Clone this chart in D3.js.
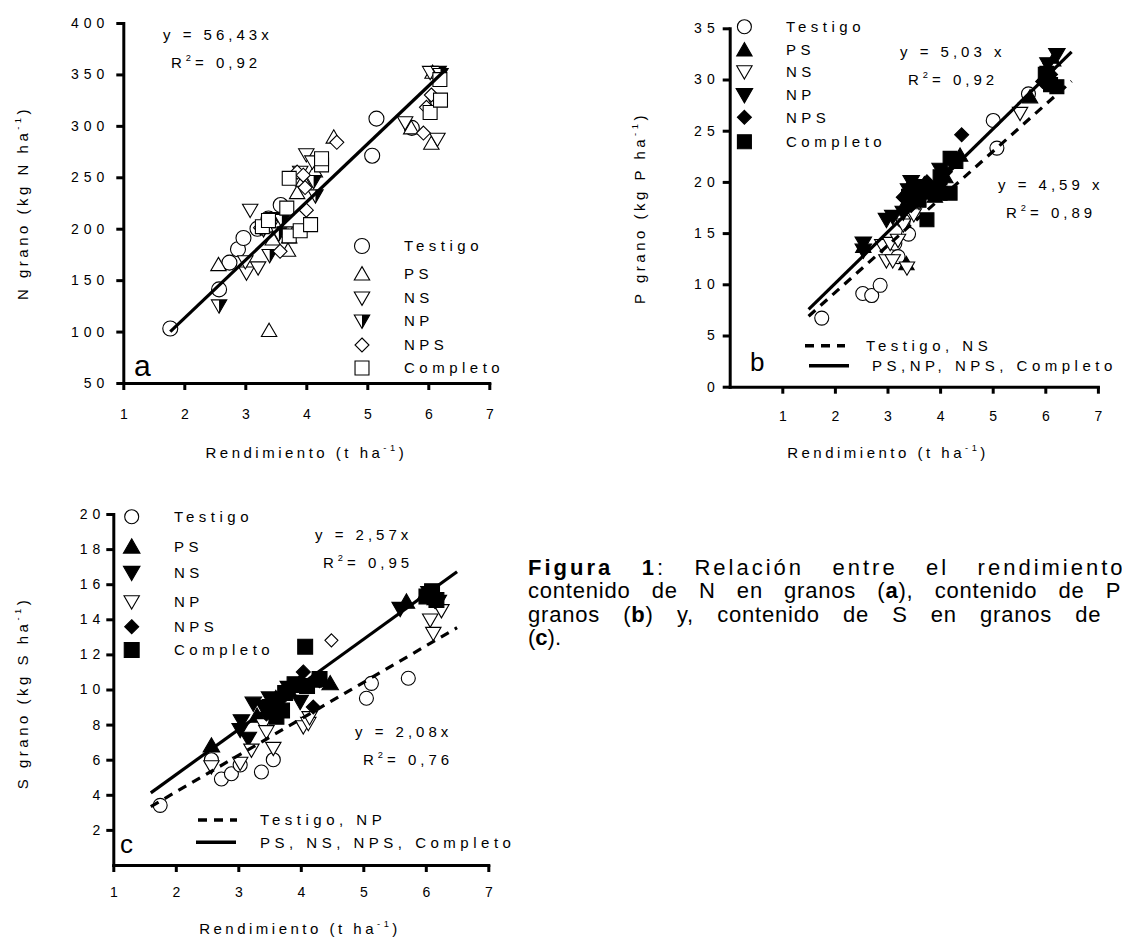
<!DOCTYPE html>
<html>
<head>
<meta charset="utf-8">
<script src="https://cdn.jsdelivr.net/npm/d3@7"></script>
<style>
  body { margin: 0; background: #fff; width: 1122px; height: 939px; overflow: hidden; position: relative; }
  #chart { position: absolute; left: 0; top: 0; }
  #caption { position: absolute; left: 528px; top: 556px; width: 640px; color: #000;
             font-family: "Liberation Sans", Arial, sans-serif; font-size: 22px; line-height: 23.3px; }
  #caption .j { text-align: justify; text-align-last: justify; letter-spacing: 0.8px; }
  #caption .l1 { letter-spacing: 3px; }
</style>
</head>
<body>
<div id="chart"></div>
<div id="caption">
  <div class="j l1"><b>Figura 1</b>: Relación entre el rendimiento y</div>
  <div class="j">contenido de N en granos (<b>a</b>), contenido de P en</div>
  <div class="j">granos (<b>b</b>) y, contenido de S en granos de soja</div>
  <div>(<b>c</b>).</div>
</div>
<script>
// ---------- data (rendimiento t/ha, contenido kg/ha) ----------
const treatments = ['Testigo', 'PS', 'NS', 'NP', 'NPS', 'Completo'];
const xTicks = [1, 2, 3, 4, 5, 6, 7];

// panel a : N grano
const aTestigo  = [[1.77,103],[2.57,141],[2.74,167],[2.88,180],[2.97,191],[3.20,200],[3.38,210],[3.58,223],[5.08,271],[5.15,307],[5.73,298]];
const aPS       = [[2.56,165],[3.39,101],[3.45,190],[3.70,179],[3.72,192],[3.85,235],[3.95,247],[4.14,256],[4.45,289],[5.72,298],[6.05,283],[6.07,352]];
const aNS       = [[3.08,218],[3.02,157],[3.00,168],[3.21,162],[3.42,203],[3.65,196],[4.00,272],[4.10,265],[5.62,303],[6.03,352],[6.15,287],[3.90,255]];
const aNP       = [[2.57,125],[3.30,199],[3.40,174],[3.46,210],[3.60,208],[3.55,195],[4.12,246],[4.15,232],[6.10,323],[6.17,352],[6.20,350]];
const aNPS      = [[3.25,201],[3.57,178],[3.70,193],[3.85,255],[3.95,252],[3.98,240],[4.00,218],[4.50,284],[5.92,293],[5.97,318],[6.05,330]];
const aCompleto = [[3.28,202],[3.38,208],[3.68,220],[3.72,249],[3.72,193],[3.90,198],[4.07,204],[4.25,262],[4.25,268],[6.03,313],[6.19,345],[6.20,325]];
const aYTicks = [50, 100, 150, 200, 250, 300, 350, 400];
const aSlopes = [56.43];
const aR2 = ['0,92'];

// panel b : P grano
const bTestigo  = [[1.75,6.7],[2.53,9.1],[2.70,8.9],[2.86,9.9],[3.14,14.0],[3.20,12.7],[3.40,14.9],[3.30,16.2],[5.01,26.0],[5.08,23.3],[5.68,28.6]];
const bPS       = [[2.54,13.7],[3.36,12.0],[3.30,17.5],[3.40,19.5],[3.55,18.5],[3.70,19.8],[3.90,18.6],[4.10,20.5],[4.38,22.6],[5.71,28.3],[6.00,30.5],[6.15,31.9]];
const bNS       = [[2.90,13.8],[2.98,12.3],[3.05,14.0],[3.10,12.3],[3.20,14.3],[3.37,11.6],[3.30,15.8],[3.50,16.8],[3.60,18.0],[5.52,26.7],[6.10,31.0]];
const bNP       = [[2.54,13.3],[2.54,14.0],[2.98,16.3],[3.10,16.6],[3.30,17.0],[3.40,19.2],[3.45,20.0],[3.60,19.6],[3.80,18.9],[4.00,21.2],[6.05,31.5],[6.22,32.4]];
const bNPS      = [[3.30,18.5],[3.45,17.7],[3.50,19.8],[3.65,19.0],[3.75,20.0],[3.90,19.5],[4.00,19.8],[4.10,21.0],[4.41,24.6],[5.95,29.8],[6.10,30.5]];
const bCompleto = [[3.40,18.6],[3.60,18.2],[3.75,16.3],[3.85,19.0],[4.00,20.5],[4.00,18.9],[4.19,18.9],[4.19,22.3],[4.30,22.0],[6.00,30.5],[6.03,30.6],[6.10,29.5],[6.22,29.3]];
const bYTicks = [0, 5, 10, 15, 20, 25, 30, 35];
const bSlopes = [4.59, 5.03];
const bR2 = ['0,89', '0,92'];

// panel c : S grano
const cTestigo  = [[1.75,3.4],[2.57,6.0],[2.73,4.9],[2.89,5.2],[3.03,5.7],[3.37,5.3],[3.56,6.0],[5.05,9.5],[5.13,10.35],[5.72,10.64]];
const cPS       = [[2.57,6.8],[3.30,8.5],[3.60,9.5],[3.80,10.0],[3.90,10.2],[4.00,10.5],[4.20,10.5],[4.47,10.35],[5.69,15.0],[6.00,15.5],[6.15,15.2]];
const cNS       = [[3.03,7.7],[3.05,8.2],[3.16,7.2],[3.24,9.2],[3.40,9.0],[3.50,9.5],[3.80,10.1],[3.99,9.3],[5.59,14.6],[6.05,15.5],[6.20,15.0]];
const cNP       = [[2.57,5.6],[3.03,5.8],[3.21,6.55],[3.40,8.0],[3.45,7.6],[3.56,6.65],[4.04,7.88],[4.12,8.07],[4.14,8.4],[6.07,13.96],[6.12,13.2],[6.25,14.5]];
const cNPS      = [[3.45,8.6],[3.60,9.0],[3.70,9.5],[3.85,10.0],[4.00,10.3],[4.04,11.0],[4.20,9.0],[4.30,10.5],[6.05,15.3],[6.15,15.0]];
const cNPSOpen  = [[4.49,12.8]];
const cCompleto = [[3.50,9.0],[3.61,8.45],[3.70,8.8],[3.75,9.8],[3.90,10.3],[4.07,12.44],[4.10,10.2],[4.30,10.6],[6.01,15.3],[6.10,15.6],[6.17,15.1]];
const cYTicks = [2, 4, 6, 8, 10, 12, 14, 16, 18, 20];
const cSlopes = [2.08, 2.57];
const cR2 = ['0,76', '0,95'];

// ---------- drawing ----------
const FONT = '"Liberation Sans", Arial, Helvetica, sans-serif';
const svg = d3.select('#chart').append('svg')
    .attr('width', 1122).attr('height', 939);

function shape(type, r) {
  if (type === 'circle') return `M${-r},0A${r},${r} 0 1,0 ${r},0A${r},${r} 0 1,0 ${-r},0Z`;
  if (type === 'up') return `M0,${-r*1.05}L${r*1.1},${r*0.85}L${-r*1.1},${r*0.85}Z`;
  if (type === 'down') return `M0,${r*1.05}L${r*1.1},${-r*0.85}L${-r*1.1},${-r*0.85}Z`;
  if (type === 'halfdown') return `M0,${r*1.05}L${r*1.1},${-r*0.85}L0,${-r*0.85}Z`;
  if (type === 'diamond') return `M0,${-r}L${r},0L0,${r}L${-r},0Z`;
  return `M${-r*0.93},${-r*0.93}h${r*1.86}v${r*1.86}h${-r*1.86}Z`;
}

function marker(g, type, fill, r, px, py) {
  const m = g.append('g').attr('transform', `translate(${px},${py})`);
  m.append('path').attr('d', shape(type, r))
    .attr('fill', fill === 'filled' ? '#000' : '#fff')
    .attr('stroke', '#000').attr('stroke-width', 1.1);
  if (fill === 'half') m.append('path').attr('d', shape('halfdown', r)).attr('fill', '#000');
}

function label(g, x, y, main, opts) {
  // text with optional superscript "-1" / "2"
  const t = g.append('text').attr('x', x).attr('y', y)
    .attr('font-family', FONT).attr('font-size', opts.size)
    .attr('letter-spacing', opts.ls).attr('fill', '#000')
    .attr('text-anchor', opts.anchor || 'start');
  if (opts.rotate) t.attr('transform', `rotate(-90,${x},${y})`);
  main.forEach(part => {
    if (part.sup) t.append('tspan').attr('dy', -7).attr('font-size', opts.size * 0.62).text(part.sup);
    else t.append('tspan').attr('dy', part.down ? 7 : 0).text(part.txt);
  });
  return t;
}

function drawPanel(p) {
  const x = d3.scaleLinear().domain(p.xDomain).range(p.xRange);
  const y = d3.scaleLinear().domain(p.yDomain).range(p.yRange);
  const g = svg.append('g');

  const xAxis = g.append('g').attr('transform', `translate(0,${p.yRange[0]})`)
    .call(d3.axisBottom(x).tickValues(xTicks).tickFormat(d3.format('d'))
      .tickSize(7).tickSizeOuter(0).tickPadding(p.xPad));
  const yAxis = g.append('g').attr('transform', `translate(${p.xRange[0]},0)`)
    .call(d3.axisLeft(y).tickValues(p.yTicks).tickFormat(d3.format('d'))
      .tickSize(7).tickSizeOuter(0).tickPadding(p.yPad));
  [xAxis, yAxis].forEach(a => {
    a.select('.domain').attr('stroke-width', 3).attr('stroke-linecap', 'square');
    a.selectAll('.tick line').attr('stroke-width', 3);
    a.selectAll('.tick text').attr('font-family', FONT).attr('font-size', 14)
      .attr('letter-spacing', p.tickLs).attr('fill', '#000');
  });
  xAxis.selectAll('.tick text').attr('dx', p.tickLs / 2);

  // markers
  p.series.forEach(s => {
    s.data.forEach(d => marker(g, s.shape, s.fill, s.r, x(d[0]), y(d[1])));
  });

  // regression lines  y = b * x
  p.lines.forEach(l => {
    g.append('line')
      .attr('x1', x(l.from)).attr('y1', y(l.slope * l.from))
      .attr('x2', x(l.to)).attr('y2', y(l.slope * l.to))
      .attr('stroke', '#000').attr('stroke-width', 3.2)
      .attr('stroke-dasharray', l.dash ? '9,7' : null);
  });

  // equations
  p.eqs.forEach(e => {
    label(g, e.x, e.y, [{txt: `y = ${e.slope.toFixed(2).replace('.', ',')}${e.gap ? ' ' : ''}x`}], {size: 15, ls: 4});
    label(g, e.x + 8, e.y + 28, [{txt: 'R'}, {sup: '2'}, {txt: '= ' + e.r2, down: true}], {size: 15, ls: 4});
  });

  // symbol legend
  p.series.filter(s => s.legend).forEach((s, i) => {
    const ly = p.legend.rows[i];
    marker(g, s.shape, s.fill, s.r, p.legend.sx, ly);
    g.append('text').attr('x', p.legend.tx).attr('y', ly).attr('dy', '0.36em')
      .attr('font-family', FONT).attr('font-size', 15).attr('letter-spacing', 4.5)
      .attr('fill', '#000').text(s.name);
  });

  // line legend
  (p.lineLegend || []).forEach(l => {
    g.append('line').attr('x1', l.x1).attr('x2', l.x2).attr('y1', l.y).attr('y2', l.y)
      .attr('stroke', '#000').attr('stroke-width', 3.5)
      .attr('stroke-dasharray', l.dash ? '9,7' : null);
    g.append('text').attr('x', l.tx).attr('y', l.y).attr('dy', '0.36em')
      .attr('font-family', FONT).attr('font-size', 15).attr('letter-spacing', 4.5)
      .attr('fill', '#000').text(l.text);
  });

  // panel letter
  g.append('text').attr('x', p.letter.x).attr('y', p.letter.y)
    .attr('font-family', FONT).attr('font-size', p.letter.size).attr('fill', '#000').text(p.letter.t);

  // axis titles
  const mid = (p.xRange[0] + p.xRange[1]) / 2;
  label(g, p.xTitle.x || mid, p.xTitle.y, [{txt: 'Rendimiento (t ha'}, {sup: '-1'}, {txt: ')', down: true}],
        {size: 15, ls: 3.5, anchor: 'middle'});
  label(g, p.yTitle.x, p.yTitle.y, [{txt: p.yTitle.t}, {sup: '-1'}, {txt: ')', down: true}],
        {size: 15, ls: 3.5, anchor: 'middle', rotate: true});
}

// panel a
drawPanel({
  xDomain: [1, 7], xRange: [123.3, 489.3],
  yDomain: [50, 400], yRange: [383, 23],
  yTicks: aYTicks, xPad: 19, yPad: 7, tickLs: 5,
  series: [
    {name: treatments[0], data: aTestigo, shape: 'circle', fill: 'open', r: 7.5, legend: true},
    {name: treatments[1], data: aPS, shape: 'up', fill: 'open', r: 7, legend: true},
    {name: treatments[2], data: aNS, shape: 'down', fill: 'open', r: 7, legend: true},
    {name: treatments[3], data: aNP, shape: 'down', fill: 'half', r: 7, legend: true},
    {name: treatments[4], data: aNPS, shape: 'diamond', fill: 'open', r: 7, legend: true},
    {name: treatments[5], data: aCompleto, shape: 'square', fill: 'open', r: 7.5, legend: true}
  ],
  lines: [{slope: aSlopes[0], from: 1.77, to: 6.27}],
  eqs: [{x: 163, y: 40, slope: aSlopes[0], r2: aR2[0]}],
  legend: {sx: 362, tx: 404, rows: [246, 274, 298, 321, 345, 368]},
  letter: {x: 134, y: 376, size: 30, t: 'a'},
  xTitle: {y: 458}, yTitle: {x: 28, y: 203, t: 'N grano (kg N ha'}
});

// panel b
drawPanel({
  xDomain: [0, 7], xRange: [729.7, 1097.9],
  yDomain: [0, 35], yRange: [386.7, 28.3],
  yTicks: bYTicks, xPad: 17, yPad: 3, tickLs: 5,
  series: [
    {name: treatments[0], data: bTestigo, shape: 'circle', fill: 'open', r: 7, legend: true},
    {name: treatments[1], data: bPS, shape: 'up', fill: 'filled', r: 7, legend: true},
    {name: treatments[2], data: bNS, shape: 'down', fill: 'open', r: 7, legend: true},
    {name: treatments[3], data: bNP, shape: 'down', fill: 'filled', r: 7.5, legend: true},
    {name: treatments[4], data: bNPS, shape: 'diamond', fill: 'filled', r: 7, legend: true},
    {name: treatments[5], data: bCompleto, shape: 'square', fill: 'filled', r: 7.5, legend: true}
  ],
  lines: [{slope: bSlopes[0], from: 1.5, to: 6.5, dash: true}, {slope: bSlopes[1], from: 1.5, to: 6.5}],
  eqs: [{x: 900, y: 57, slope: bSlopes[1], r2: bR2[1], gap: true},
        {x: 998, y: 190, slope: bSlopes[0], r2: bR2[0], gap: true}],
  legend: {sx: 744.4, tx: 786, rows: [26.7, 50, 71.7, 95, 117.3, 141.7]},
  lineLegend: [{x1: 805, x2: 845, y: 345.7, tx: 866, text: 'Testigo, NS', dash: true},
               {x1: 809, x2: 849, y: 365.7, tx: 872, text: 'PS,NP, NPS, Completo'}],
  letter: {x: 750, y: 371, size: 26, t: 'b'},
  xTitle: {x: 888, y: 458}, yTitle: {x: 645, y: 208, t: 'P grano (kg P ha'}
});

// panel c
drawPanel({
  xDomain: [1, 7], xRange: [113.3, 488.3],
  yDomain: [0, 20], yRange: [865, 514],
  yTicks: cYTicks, xPad: 15, yPad: 1, tickLs: 5,
  series: [
    {name: treatments[0], data: cTestigo, shape: 'circle', fill: 'open', r: 7, legend: true},
    {name: treatments[1], data: cPS, shape: 'up', fill: 'filled', r: 7.5, legend: true},
    {name: treatments[2], data: cNS, shape: 'down', fill: 'filled', r: 7.5, legend: true},
    {name: treatments[3], data: cNP, shape: 'down', fill: 'open', r: 7, legend: true},
    {name: treatments[4], data: cNPS, shape: 'diamond', fill: 'filled', r: 7, legend: true},
    {name: treatments[5], data: cCompleto, shape: 'square', fill: 'filled', r: 8, legend: true},
    {name: 'NPS', data: cNPSOpen, shape: 'diamond', fill: 'open', r: 6.5, legend: false}
  ],
  lines: [{slope: cSlopes[0], from: 1.6, to: 6.5, dash: true}, {slope: cSlopes[1], from: 1.6, to: 6.5}],
  eqs: [{x: 315, y: 540, slope: cSlopes[1], r2: cR2[1]},
        {x: 355, y: 737, slope: cSlopes[0], r2: cR2[0]}],
  legend: {sx: 131.7, tx: 174, rows: [516.7, 546.7, 572.7, 601.7, 626.7, 650]},
  lineLegend: [{x1: 198, x2: 237, y: 820, tx: 260, text: 'Testigo, NP', dash: true},
               {x1: 196, x2: 236, y: 842.3, tx: 260, text: 'PS, NS, NPS, Completo'}],
  letter: {x: 120, y: 853, size: 26, t: 'c'},
  xTitle: {x: 300, y: 934}, yTitle: {x: 28, y: 693, t: 'S grano (kg S ha'}
});
</script>
</body>
</html>
